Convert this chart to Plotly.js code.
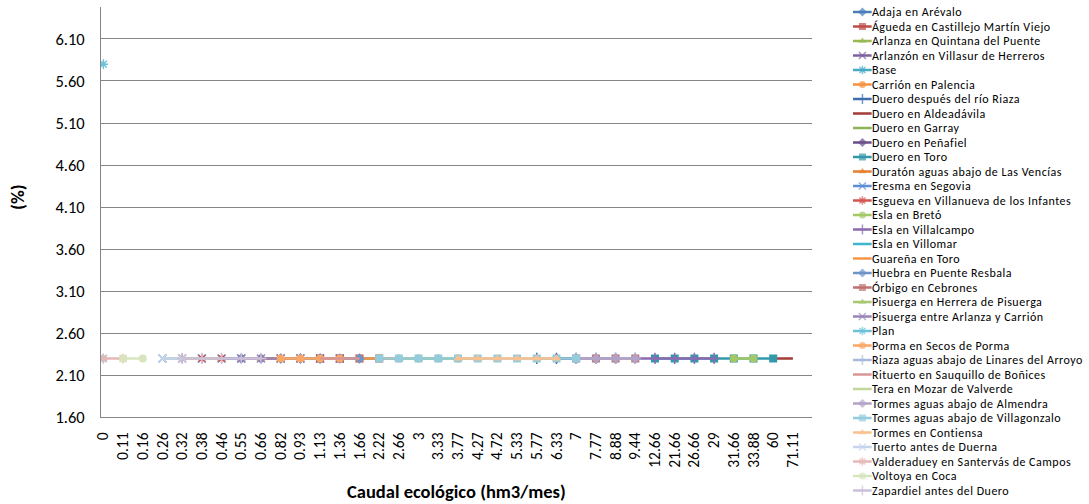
<!DOCTYPE html>
<html>
<head>
<meta charset="utf-8">
<script src="https://cdn.plot.ly/plotly-3.0.1.min.js"></script>
<style>html,body{margin:0;padding:0;background:#fff;}#chart{width:1089px;height:504px;}
#chart .textpoint text{letter-spacing:0.5px;}</style>
</head>
<body>
<div id="chart"></div>
<script>
// Category labels of the x axis (Caudal ecológico, hm3/mes)
const categories = ["0","0.11","0.16","0.26","0.32","0.38","0.46","0.55","0.66","0.82","0.93","1.13","1.36","1.66","2.22","2.66","3","3.33","3.77","4.27","4.72","5.33","5.77","6.33","7","7.77","8.88","9.44","12.66","21.66","26.66","29","31.66","33.88","60","71.11"];

const yTicks = [1.6, 2.1, 2.6, 3.1, 3.6, 4.1, 4.6, 5.1, 5.6, 6.1];

const seriesNames = ["Adaja en Arévalo","Águeda en Castillejo Martín Viejo","Arlanza en Quintana del Puente","Arlanzón en Villasur de Herreros","Base","Carrión en Palencia","Duero después del río Riaza","Duero en Aldeadávila","Duero en Garray","Duero en Peñafiel","Duero en Toro","Duratón aguas abajo de Las Vencías","Eresma en Segovia","Esgueva en Villanueva de los Infantes","Esla en Bretó","Esla en Villalcampo","Esla en Villomar","Guareña en Toro","Huebra en Puente Resbala","Órbigo en Cebrones","Pisuerga en Herrera de Pisuerga","Pisuerga entre Arlanza y Carrión","Plan","Porma en Secos de Porma","Riaza aguas abajo de Linares del Arroyo","Rituerto en Sauquillo de Boñices","Tera en Mozar de Valverde","Tormes aguas abajo de Almendra","Tormes aguas abajo de Villagonzalo","Tormes en Contiensa","Tuerto antes de Duerna","Valderaduey en Santervás de Campos","Voltoya en Coca","Zapardiel antes del Duero"];

// Series values: caudal category (x) and percentage (y)
const adajaX = ["0.55","0.66","0.82","0.93","1.13"];            const adajaY = [2.3,2.3,2.3,2.3,2.3];
const aguedaX = ["1.13","1.36","1.66","2.22"];                  const aguedaY = [2.3,2.3,2.3,2.3];
const arlanzaX = ["2.22","2.66","3","3.33","3.77","4.27"];      const arlanzaY = [2.3,2.3,2.3,2.3,2.3,2.3];
const arlanzonX = ["0.82","0.93","1.13","1.36"];                const arlanzonY = [2.3,2.3,2.3,2.3];
const baseX = ["0"];                                            const baseY = [2.3];
const carrionX = ["1.66","2.22","2.66","3","3.33","3.77"];      const carrionY = [2.3,2.3,2.3,2.3,2.3,2.3];
const dueroRiazaX = ["5.77","6.33","7","7.77","8.88"];          const dueroRiazaY = [2.3,2.3,2.3,2.3,2.3];
const dueroAldeadavilaX = ["60","71.11"];                       const dueroAldeadavilaY = [2.3,2.3];
const dueroGarrayX = ["3","3.33","3.77","4.27"];                const dueroGarrayY = [2.3,2.3,2.3,2.3];
const dueroPenafielX = ["6.33","7","7.77","8.88"];              const dueroPenafielY = [2.3,2.3,2.3,2.3];
const dueroToroX = ["12.66","21.66","26.66","29","31.66","33.88","60"]; const dueroToroY = [2.3,2.3,2.3,2.3,2.3,2.3,2.3];
const duratonX = ["0.46","0.55","0.66","0.82","0.93"];          const duratonY = [2.3,2.3,2.3,2.3,2.3];
const eresmaX = ["0.26","0.32","0.38","0.46","0.55"];           const eresmaY = [2.3,2.3,2.3,2.3,2.3];
const esguevaX = ["0.32","0.38","0.46"];                        const esguevaY = [2.3,2.3,2.3];
const eslaBretoX = ["31.66","33.88"];                           const eslaBretoY = [2.3,2.3];
const eslaVillalcampoX = ["9.44","12.66","21.66","26.66","29"]; const eslaVillalcampoY = [2.3,2.3,2.3,2.3,2.3];
const eslaVillomarX = ["1.36","1.66","2.22"];                   const eslaVillomarY = [2.3,2.3,2.3];
const guarenaX = ["1.66","2.22","2.66","3"];                    const guarenaY = [2.3,2.3,2.3,2.3];
const huebraX = ["0.93","1.13","1.36","1.66"];                  const huebraY = [2.3,2.3,2.3,2.3];
const orbigoX = ["7","7.77","8.88","9.44"];                     const orbigoY = [2.3,2.3,2.3,2.3];
const pisuergaHerreraX = ["2.66","3","3.33","3.77","4.27","4.72"]; const pisuergaHerreraY = [2.3,2.3,2.3,2.3,2.3,2.3];
const pisuergaEntreX = ["0.55","0.66","0.82","0.93"];           const pisuergaEntreY = [2.3,2.3,2.3,2.3];
const planX = ["0"];                                            const planY = [5.8];
const pormaX = ["0.82","0.93","1.13","1.36"];                   const pormaY = [2.3,2.3,2.3,2.3];
const riazaX = ["7","7.77","8.88","9.44"];                      const riazaY = [2.3,2.3,2.3,2.3];
const rituertoX = ["1.13","1.36","1.66"];                       const rituertoY = [2.3,2.3,2.3];
const teraX = ["0.26","0.32","0.38","0.46"];                    const teraY = [2.3,2.3,2.3,2.3];
const tormesAlmendraX = ["7","7.77","8.88","9.44"];             const tormesAlmendraY = [2.3,2.3,2.3,2.3];
const tormesVillagonzaloX = ["2.22","2.66","3","3.33","3.77","4.27","4.72","5.33","5.77","6.33","7"]; const tormesVillagonzaloY = [2.3,2.3,2.3,2.3,2.3,2.3,2.3,2.3,2.3,2.3,2.3];
const tormesContiensaX = ["3.77","4.27","4.72","5.33","5.77","6.33"]; const tormesContiensaY = [2.3,2.3,2.3,2.3,2.3,2.3];
const tuertoX = ["0.26","0.32"];                                const tuertoY = [2.3,2.3];
const valderadueyX = ["0","0.11"];                              const valderadueyY = [2.3,2.3];
const voltoyaX = ["0.11","0.16"];                               const voltoyaY = [2.3,2.3];
const zapardielX = ["0.32","0.38","0.46","0.55","0.66"];        const zapardielY = [2.3,2.3,2.3,2.3,2.3];

const seriesX = [adajaX,aguedaX,arlanzaX,arlanzonX,baseX,carrionX,dueroRiazaX,dueroAldeadavilaX,dueroGarrayX,dueroPenafielX,dueroToroX,duratonX,eresmaX,esguevaX,eslaBretoX,eslaVillalcampoX,eslaVillomarX,guarenaX,huebraX,orbigoX,pisuergaHerreraX,pisuergaEntreX,planX,pormaX,riazaX,rituertoX,teraX,tormesAlmendraX,tormesVillagonzaloX,tormesContiensaX,tuertoX,valderadueyX,voltoyaX,zapardielX];
const seriesY = [adajaY,aguedaY,arlanzaY,arlanzonY,baseY,carrionY,dueroRiazaY,dueroAldeadavilaY,dueroGarrayY,dueroPenafielY,dueroToroY,duratonY,eresmaY,esguevaY,eslaBretoY,eslaVillalcampoY,eslaVillomarY,guarenaY,huebraY,orbigoY,pisuergaHerreraY,pisuergaEntreY,planY,pormaY,riazaY,rituertoY,teraY,tormesAlmendraY,tormesVillagonzaloY,tormesContiensaY,tuertoY,valderadueyY,voltoyaY,zapardielY];

// Styles
const colors = ["#4A7EBB","#BE4B48","#98B954","#7D60A0","#46AAC5","#F69240","#3F6FAF","#A33B39","#8DB257","#6A5089","#3399AA","#E67E2E","#5B8FD6","#D45450","#A5C866","#8B6BB0","#3FB5CF","#F79646","#6F93C8","#C0706E","#A9C873","#9A85B8","#6CC3D8","#F9A764","#A5B9DE","#D99694","#C3D69B","#B3A2C7","#93CDDD","#FAC090","#C6D4EC","#E6B9B8","#D7E4BD","#CCC1DA"];
const symbols = ["diamond","square","triangle-up","x-thin-open","asterisk-open","circle","cross-thin-open",null,null,"diamond","square","triangle-up","x-thin-open","asterisk-open","circle","cross-thin-open",null,null,"diamond","square","triangle-up","x-thin-open","asterisk-open","circle","cross-thin-open",null,null,"diamond","square","triangle-up","x-thin-open","asterisk-open","circle","cross-thin-open"];

const FONT = "Carlito, Calibri, Lato, 'Liberation Sans', sans-serif";

function makeTrace(i, x, y, axX, axY, sizes) {
  const sym = symbols[i];
  const thin = sym && (sym.indexOf("thin") >= 0 || sym.indexOf("asterisk") >= 0);
  const t = {
    type: "scatter", x: x, y: y, name: seriesNames[i],
    mode: sym ? "lines+markers" : "lines",
    line: {color: colors[i], width: 2.5},
    xaxis: axX, yaxis: axY, showlegend: false
  };
  if (sym) {
    t.marker = {symbol: sym, size: sizes, color: colors[i], line: {color: colors[i], width: thin ? 1.5 : 0}};
  }
  return t;
}

const traces = [];
seriesNames.forEach((name, i) => traces.push(makeTrace(i, seriesX[i], seriesY[i], "x", "y", 8)));
// Hand-drawn legend on a second pair of axes (row index -> y)
seriesNames.forEach((name, i) => traces.push(makeTrace(i, [0, 0.04, 0.079], [i, i, i], "x2", "y2", [0, 7, 0])));
const rows = seriesNames.map((n, i) => i + 0.1);
traces.push({
  type: "scatter", mode: "text", x: rows.map(() => 0.08), y: rows, text: seriesNames,
  textposition: "middle right", textfont: {family: FONT, size: 12, color: "#000"},
  xaxis: "x2", yaxis: "y2", showlegend: false, cliponaxis: false
});

const annotations = [];
annotations.push({xref: "paper", yref: "paper", x: (18 - 101) / 988, y: 1 - 197 / 504, text: "<b>(%)</b>", textangle: -90,
  showarrow: false, xanchor: "center", yanchor: "middle", font: {family: FONT, size: 19, color: "#000"}});
annotations.push({xref: "paper", yref: "paper", x: (456 - 101) / 988, y: 1 - 491 / 504, text: "<b>Caudal ecológico (hm3/mes)</b>",
  showarrow: false, xanchor: "center", yanchor: "middle", font: {family: FONT, size: 18.5, color: "#000"}});

const layout = {
  width: 1089, height: 504,
  margin: {l: 101, r: 0, t: 0, b: 0, pad: 0},
  paper_bgcolor: "#fff", plot_bgcolor: "rgba(0,0,0,0)",
  showlegend: false,
  font: {family: FONT, color: "#000"},
  xaxis: {
    type: "category", categoryorder: "array", categoryarray: categories,
    domain: [0, 711 / 988], range: [-0.12, 35.97],
    tickvals: categories, ticktext: categories,
    tickangle: -90, ticks: "", ticklabelstandoff: 8,
    showgrid: false, showline: true, linecolor: "#868686", linewidth: 1,
    zeroline: false, tickfont: {family: FONT, size: 15.5, color: "#000"}
  },
  yaxis: {
    domain: [1 - 417.3 / 504, 1 - 7 / 504], range: [1.6, 6.48],
    tickvals: yTicks, ticktext: yTicks.map(v => v.toFixed(2)),
    ticks: "", ticklabelstandoff: 12,
    showgrid: true, gridcolor: "#868686", gridwidth: 1,
    showline: true, linecolor: "#868686", linewidth: 1, zeroline: false,
    tickfont: {family: FONT, size: 16.5, color: "#000"}
  },
  xaxis2: {domain: [(853 - 101) / 988, 1], range: [0, 1], visible: false, fixedrange: true},
  yaxis2: {anchor: "x2", domain: [0, 1], range: [(504 - 12) / 14.5, -12 / 14.5], visible: false, fixedrange: true},
  annotations: annotations
};

Plotly.newPlot("chart", traces, layout, {displayModeBar: false, staticPlot: true});
</script>
</body>
</html>
